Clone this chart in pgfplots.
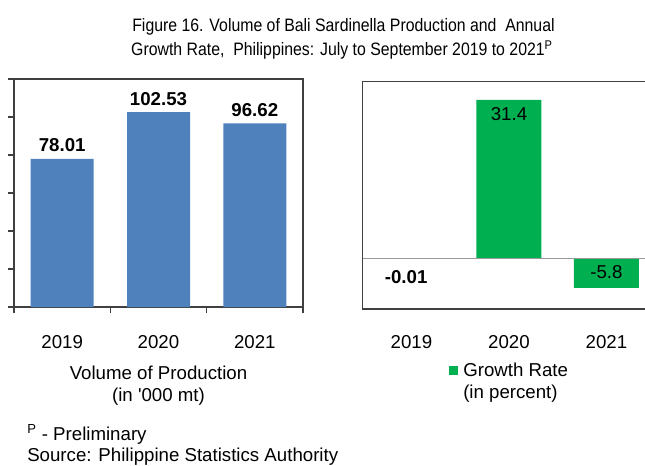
\documentclass[border=0pt]{standalone}
\usepackage{pgfplots}
\pgfplotsset{compat=1.18}
\usepackage{fontspec}
\setmainfont{Liberation Sans}[Ligatures=TeXOff]
\definecolor{barblue}{HTML}{4F81BD}
\definecolor{bargreen}{HTML}{00B050}
\definecolor{axgray}{HTML}{404040}
\newcommand\lab{\fontsize{14}{16.5}\selectfont}
\newcommand\ttl{\fontsize{13.5}{18}\selectfont\addfontfeature{FakeStretch=0.88}}
\begin{document}
\begin{tikzpicture}[x=0.75pt,y=0.75pt]
\path[use as bounding box] (0,0) rectangle (645,465);
\coordinate (LA) at (14,158);
\coordinate (RA) at (362.7,156);
% title
\node[anchor=base, inner sep=0pt, font=\ttl] at (343.5,433) {Figure 16. Volume of Bali Sardinella Production and\ \ Annual};
\node[anchor=base, inner sep=0pt, font=\ttl] at (342,409) {Growth Rate,\ \ Philippines: July to September 2019 to 2021\textsuperscript{P}};

% left chart
\begin{axis}[
  at={(LA)}, anchor=south west, scale only axis,
  width=216.75pt, height=171pt,
  xmin=-0.5, xmax=2.5, ymin=0, ymax=120,
  ybar, bar width=47.25pt,
  xtick={-0.5,0.5,1.5,2.5}, xticklabels={},
  extra x ticks={0,1,2}, extra x tick labels={2019,2020,2021},
  extra x tick style={major tick length=0pt},
  ytick={0,20,...,120}, yticklabels={},
  major tick length=4.5pt,
  tick align=outside, tick pos=left,
  axis line style={axgray, line width=0.9pt},
  every tick/.style={axgray, line width=0.9pt},
  xticklabel style={font=\lab, anchor=base, inner sep=0pt, yshift=-30.75pt},
  xlabel={Volume of Production\\(in '000 mt)},
  xlabel style={at={(axis description cs:0.5,0)}, anchor=north, align=center, font=\lab, inner sep=0pt, yshift=-44.25pt},
  nodes near coords={\pgfmathprintnumber[fixed,fixed zerofill,precision=2,assume math mode=true]{\pgfplotspointmeta}},
  nodes near coords style={font=\bfseries\fontsize{14}{14}\selectfont, anchor=south, inner sep=0pt, yshift=5pt},
]
\addplot[fill=barblue, draw=none] coordinates {(0,78.01) (1,102.53) (2,96.62)};
\end{axis}

% right chart
\begin{axis}[
  at={(RA)}, anchor=south west, scale only axis,
  width=219.4pt, height=170.5pt,
  xmin=-0.5, xmax=2.5, ymin=-10, ymax=35,
  ybar, bar width=48.75pt, axis on top,
  xtick={0,1,2}, xticklabels={2019,2020,2021},
  ytick=\empty,
  major tick length=0pt,
  axis line style={axgray, line width=0.9pt},
  extra y ticks={0}, extra y tick labels={},
  extra y tick style={grid=major, major grid style={black!40, line width=0.8pt}},
  xticklabel style={font=\lab, anchor=base, inner sep=0pt, yshift=-29.25pt},
  legend style={at={(axis description cs:0.295,-0.27)}, anchor=west, draw=none, fill=none, inner sep=0pt, font=\lab, nodes={inner sep=0pt}, column sep=3.75pt},
  legend image code/.code={\fill[#1] (0pt,-3.2pt) rectangle (6.75pt,3.2pt);},
]
\addplot[fill=bargreen, draw=none] coordinates {(0,-0.01) (1,31.4) (2,-5.8)};
\addlegendentry{Growth Rate}
\node[anchor=north, inner sep=0pt, font=\fontsize{14}{14}\selectfont] at (axis cs:1,31.4) [yshift=-5.25pt] {31.4};
\node[anchor=north, inner sep=0pt, font=\fontsize{14}{14}\selectfont] at (axis cs:2,0) [yshift=-5pt] {-5.8};
\node[anchor=north, inner sep=0pt, font=\bfseries\fontsize{14}{14}\selectfont] at (axis cs:0,0) [yshift=-8.5pt, xshift=-4pt] {-0.01};
\end{axis}
\node[anchor=base west, inner sep=0pt, font=\lab] at (463,67) {(in percent)};

% footer
\node[anchor=base west, inner sep=0pt, font=\lab] at (27,24.3) {\textsuperscript{P} - Preliminary};
\node[anchor=base west, inner sep=0pt, font=\lab] at (27,3.5) {Source: Philippine Statistics Authority};
\end{tikzpicture}
\end{document}
